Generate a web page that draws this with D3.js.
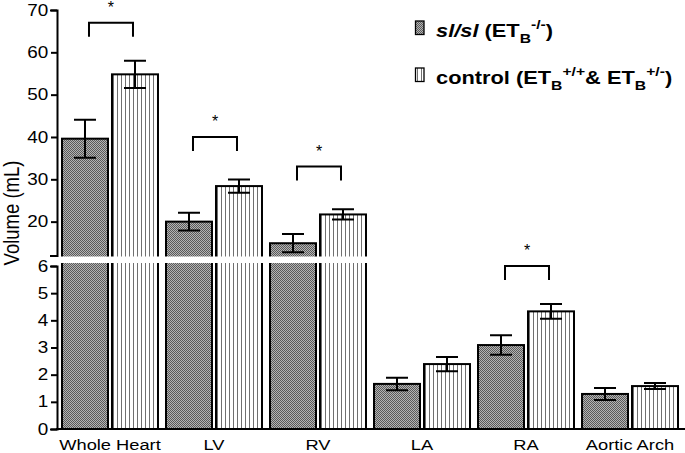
<!DOCTYPE html>
<html>
<head>
<meta charset="utf-8">
<script src="https://cdn.jsdelivr.net/npm/d3@7/dist/d3.min.js"></script>
<style>
  html, body { margin: 0; padding: 0; background: #fff; }
  svg { display: block; font-family: "Liberation Sans", Arial, sans-serif; }
</style>
</head>
<body>
<svg id="chart" width="685" height="453"></svg>
<script>
// ---- data ----
const categories = ["Whole Heart", "LV", "RV", "LA", "RA", "Aortic Arch"];
const series = ["sl/sl", "control"];
const slMean   = [39.6, 20.0, 14.9, 1.66, 3.09, 1.29];
const slSem    = [4.5, 2.1, 2.15, 0.23, 0.36, 0.22];
const ctrlMean = [54.8, 28.4, 21.7, 2.39, 4.33, 1.58];
const ctrlSem  = [3.2, 1.55, 1.2, 0.26, 0.27, 0.11];
const sigLevel = [67, 40, 33, null, 6.0, null];   // bracket height (mL) for "*"
const upperTicks = [20, 30, 40, 50, 60, 70];
const lowerTicks = [0, 1, 2, 3, 4, 5, 6];

const SX = 1.18; // horizontal stretch of the original figure's text

const svg = d3.select("#chart");
const defs = svg.append("defs");

// checker (dither) pattern
const pChk = defs.append("pattern").attr("id", "chk")
  .attr("patternUnits", "userSpaceOnUse").attr("width", 2).attr("height", 2);
pChk.append("rect").attr("width", 2).attr("height", 2).attr("fill", "#b4b4b4");
pChk.append("rect").attr("x", 0).attr("y", 0).attr("width", 1).attr("height", 1).attr("fill", "#5a5a5a");
pChk.append("rect").attr("x", 1).attr("y", 1).attr("width", 1).attr("height", 1).attr("fill", "#5a5a5a");
// vertical stripes pattern
const pStr = defs.append("pattern").attr("id", "str")
  .attr("patternUnits", "userSpaceOnUse").attr("width", 4).attr("height", 4);
pStr.append("rect").attr("width", 4).attr("height", 4).attr("fill", "#fff");
pStr.append("rect").attr("x", 1).attr("width", 1).attr("height", 4).attr("fill", "#707070");

const fills = {"sl/sl": "url(#chk)", "control": "url(#str)"};

// ---- scales ----
const x0 = d3.scaleBand().domain(categories).range([57, 683])
  .paddingInner(0.077).paddingOuter(0.048);
const x1 = d3.scaleBand().domain(series).range([0, x0.bandwidth()])
  .paddingInner(0.08).paddingOuter(0);
const yUp = d3.scaleLinear().domain([12, 70]).range([255.5, 10]);
const yLow = d3.scaleLinear().domain([0, 6]).range([429, 266]);
const BREAK = 6;
const y = v => v <= BREAK ? yLow(v) : yUp(v);

const data = [];
categories.forEach((c, i) => {
  data.push({cat: c, s: "sl/sl", m: slMean[i], e: slSem[i]});
  data.push({cat: c, s: "control", m: ctrlMean[i], e: ctrlSem[i]});
});

// ---- bars ----
const bars = svg.append("g");
bars.selectAll("rect").data(data).join("rect")
  .attr("x", d => x0(d.cat) + x1(d.s))
  .attr("y", d => y(d.m))
  .attr("width", x1.bandwidth())
  .attr("height", d => yLow(0) - y(d.m))
  .attr("fill", d => fills[d.s])
  .attr("stroke", "#000").attr("stroke-width", 2);

// error bars
const eb = svg.append("g").attr("stroke", "#000").attr("stroke-width", 2).attr("fill", "none");
const cap = 11;
data.forEach(d => {
  const cx = x0(d.cat) + x1(d.s) + x1.bandwidth() / 2;
  const t = y(d.m + d.e), b = y(d.m - d.e);
  eb.append("path").attr("d", `M${cx},${t}V${b}M${cx - cap},${t}H${cx + cap}M${cx - cap},${b}H${cx + cap}`);
});

// ---- break band ----
svg.append("rect").attr("x", 57).attr("y", 256.5).attr("width", 628).attr("height", 6.5).attr("fill", "#fff");

// ---- x axis line ----
svg.append("line").attr("x1", 56).attr("x2", 685).attr("y1", yLow(0)).attr("y2", yLow(0))
  .attr("stroke", "#000").attr("stroke-width", 2);

// ---- y axes ----
function styleAxis(g) {
  g.selectAll("path, line").attr("stroke", "#000").attr("stroke-width", 2);
  g.selectAll("text").attr("font-size", "16px").attr("fill", "#000")
    .attr("font-family", "'Liberation Sans', Arial, sans-serif")
    .attr("transform", `scale(${SX},1)`);
}
const axUp = svg.append("g").attr("transform", "translate(57,0)")
  .call(d3.axisLeft(yUp).tickValues(upperTicks).tickFormat(d3.format("d"))
    .tickSize(6).tickSizeOuter(6).tickPadding(1.5));
axUp.call(styleAxis);
const axLow = svg.append("g").attr("transform", "translate(57,0)")
  .call(d3.axisLeft(yLow).tickValues(lowerTicks).tickFormat(d3.format("d"))
    .tickSize(6).tickSizeOuter(6).tickPadding(1.5));
axLow.call(styleAxis);
svg.selectAll(".domain").attr("stroke-linecap", "square");

// x labels
svg.append("g").selectAll("g").data(categories).join("g")
  .attr("transform", d => `translate(${x0(d) + x0.bandwidth() / 2},449.5) scale(${SX},1)`)
  .append("text").attr("text-anchor", "middle").attr("font-size", "15.5px").attr("fill", "#000")
  .text(d => d);

// y title
svg.append("g").attr("transform", `translate(18.5,213) rotate(-90) scale(1,${SX})`)
  .append("text").attr("text-anchor", "middle").attr("font-size", "18.5px").attr("fill", "#000")
  .text("Volume (mL)");

// ---- significance brackets ----
const br = svg.append("g");
categories.forEach((c, i) => {
  if (sigLevel[i] == null) return;
  const a = x0(c) + x1("sl/sl") + x1.bandwidth() / 2 + 4;
  const b = x0(c) + x1("control") + x1.bandwidth() / 2 - 2;
  const yy = y(sigLevel[i]);
  br.append("path").attr("d", `M${a},${yy + 14}V${yy}H${b}V${yy + 14}`)
    .attr("fill", "none").attr("stroke", "#000").attr("stroke-width", 2);
  br.append("text").attr("x", (a + b) / 2).attr("y", yy - 10)
    .attr("text-anchor", "middle").attr("font-size", "16px").attr("fill", "#000").text("*");
});

// ---- legend ----
const leg = svg.append("g");
const rows = [
  {s: "sl/sl", y: 36.5},
  {s: "control", y: 83.5}
];
rows.forEach(r => {
  leg.append("rect").attr("x", 415.5).attr("y", r.y - 15.5).attr("width", 8.5).attr("height", 13.5)
    .attr("fill", fills[r.s]).attr("stroke", "#000").attr("stroke-width", 1.3);
});
function addParts(t, parts) {
  parts.forEach(p => {
    const ts = t.append("tspan").text(p.t);
    if (p.dy) ts.attr("dy", p.dy);
    if (p.small) ts.attr("font-size", "13.3px");
    if (p.italic) ts.attr("font-style", "italic");
  });
}
const t1 = leg.append("g").attr("transform", `translate(436,${rows[0].y}) scale(${SX},1)`)
  .append("text").attr("font-size", "18.5px").attr("font-weight", "bold").attr("fill", "#000");
addParts(t1, [
  {t: "sl/sl", italic: true},
  {t: " (ET"},
  {t: "B", dy: 6, small: true},
  {t: "-/-", dy: -14, small: true},
  {t: ")", dy: 8}
]);
const t2 = leg.append("g").attr("transform", `translate(436,${rows[1].y}) scale(${SX},1)`)
  .append("text").attr("font-size", "18.5px").attr("font-weight", "bold").attr("fill", "#000");
addParts(t2, [
  {t: "control (ET"},
  {t: "B", dy: 6, small: true},
  {t: "+/+", dy: -14, small: true},
  {t: "& ET", dy: 8},
  {t: "B", dy: 6, small: true},
  {t: "+/-", dy: -14, small: true},
  {t: ")", dy: 8}
]);
</script>
</body>
</html>
